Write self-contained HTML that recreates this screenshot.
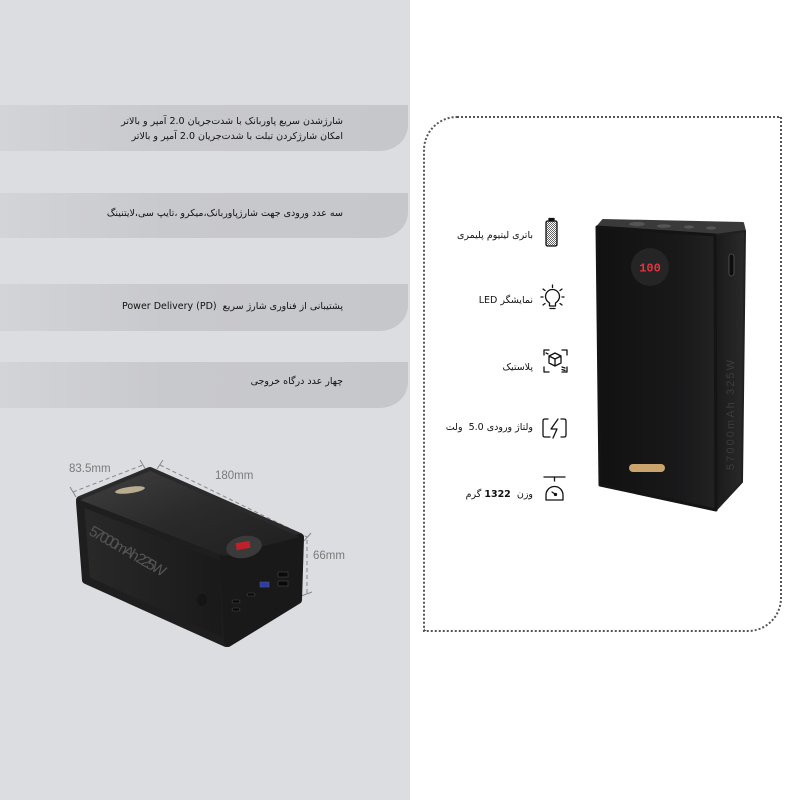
<!DOCTYPE html>
<html><head><meta charset="utf-8">
<style>
html,body{margin:0;padding:0;}
body{width:800px;height:800px;position:relative;background:#fff;overflow:hidden;font-family:"DejaVu Sans","Liberation Sans",sans-serif;}
#left{position:absolute;left:0;top:0;width:410px;height:800px;background:#dcdde1;}
.ban{position:absolute;left:0;width:408px;background:linear-gradient(to right,#d3d4d7 0,#c8c9cd 40%,#c6c7cb 100%);border-radius:0 0 28px 0/0 0 26px 0;}
.t{position:absolute;direction:rtl;text-align:right;color:#111;font-size:9.5px;white-space:nowrap;line-height:14px;}
.dim{position:absolute;font-family:"Liberation Sans",sans-serif;color:#7a7a7a;font-size:11.5px;}
#box{position:absolute;left:423px;top:116px;width:355px;height:512px;border:2px dotted #555;border-radius:34px 0 34px 0;}
</style></head><body>
<div id="left">
  <div class="ban" style="top:105px;height:46px;"></div>
  <div class="ban" style="top:193px;height:45px;"></div>
  <div class="ban" style="top:284px;height:47px;"></div>
  <div class="ban" style="top:362px;height:46px;"></div>
  <div class="t" style="right:67px;top:115px;">شارژشدن سریع پاوربانک با شدت‌جریان 2.0 آمپر و بالاتر</div>
  <div class="t" style="right:67px;top:130px;">امکان شارژکردن تبلت با شدت‌جریان 2.0 آمپر و بالاتر</div>
  <div class="t" style="right:67px;top:207px;">سه عدد ورودی جهت شارژپاوربانک،میکرو ،تایپ سی،لایتنینگ</div>
  <div class="t" style="right:67px;top:300px;">پشتیبانی از فناوری شارژ سریع &nbsp;<bdi dir="ltr">Power Delivery (PD)</bdi></div>
  <div class="t" style="right:67px;top:375px;">چهار عدد درگاه خروجی</div>
  <div class="dim" style="left:69px;top:463px;">83.5mm</div>
  <div class="dim" style="left:215px;top:470px;">180mm</div>
  <div class="dim" style="left:313px;top:550px;">66mm</div>
</div>

<svg width="800" height="800" style="position:absolute;left:0;top:0;">
  <defs>
    <linearGradient id="topL" x1="0" y1="0" x2="1" y2="1">
      <stop offset="0" stop-color="#404041"/><stop offset="0.5" stop-color="#2a2a2b"/><stop offset="1" stop-color="#1f1f20"/>
    </linearGradient>
    <linearGradient id="sideL" x1="0" y1="0" x2="1" y2="0">
      <stop offset="0" stop-color="#29292a"/><stop offset="1" stop-color="#19191a"/>
    </linearGradient>
    <linearGradient id="frontR" x1="0" y1="0" x2="1" y2="0">
      <stop offset="0" stop-color="#111112"/><stop offset="0.7" stop-color="#19191a"/><stop offset="1" stop-color="#222223"/>
    </linearGradient>
    <linearGradient id="sideR" x1="0" y1="0" x2="1" y2="0">
      <stop offset="0" stop-color="#1a1a1b"/><stop offset="1" stop-color="#2a2a2b"/>
    </linearGradient>
    <pattern id="dots" width="2" height="2" patternUnits="userSpaceOnUse">
      <rect width="2" height="2" fill="#fff"/><rect width="1" height="1" fill="#666"/><rect x="1" y="1" width="1" height="1" fill="#666"/>
    </pattern>
  </defs>

  <g stroke="#888" stroke-width="1" fill="none">
    <line x1="73" y1="492" x2="143" y2="465" stroke-dasharray="4,3"/>
    <line x1="70" y1="487" x2="76" y2="497"/>
    <line x1="140" y1="460" x2="146" y2="470"/>
    <line x1="160" y1="465" x2="307" y2="537" stroke-dasharray="4,3"/>
    <line x1="157" y1="469" x2="163" y2="460"/>
    <line x1="304" y1="541" x2="311" y2="533"/>
    <line x1="307" y1="540" x2="307" y2="594" stroke-dasharray="4,3"/>
    <line x1="301" y1="596" x2="312" y2="592"/>
  </g>

  <g stroke-linejoin="round">
    <polygon points="80,500 150,471 300,537 224,556" fill="url(#topL)" stroke="#2a2a2b" stroke-width="8"/>
    <polygon points="80,502 224,558 226,643 86,580" fill="url(#sideL)" stroke="#1e1e1f" stroke-width="8"/>
    <polygon points="224,557 300,538 298,600 228,643" fill="#19191a" stroke="#19191a" stroke-width="8"/>
    <polygon points="80,500 150,471 300,537 224,556" fill="url(#topL)"/>
  </g>
  <ellipse cx="130" cy="490" rx="15" ry="3.2" fill="#b9ad90" transform="rotate(-8 130 490)"/>
  <ellipse cx="244" cy="547" rx="18" ry="11" fill="#3a3a3b" transform="rotate(-10 244 547)"/>
  <rect x="236" y="542" width="14" height="7" fill="#c0202a" transform="rotate(-10 243 545)"/>
  <g fill="#0a0a0a" stroke="#444" stroke-width="0.6">
    <rect x="232" y="600" width="8" height="3" rx="1.5"/>
    <rect x="232" y="608" width="8" height="3" rx="1.5"/>
    <rect x="247" y="593" width="8" height="3" rx="1.5"/>
    <rect x="260" y="582" width="9" height="5" fill="#2a3cb0" stroke="#556"/>
    <rect x="278" y="572" width="10" height="5"/>
    <rect x="278" y="581" width="10" height="5"/>
  </g>
  <ellipse cx="202" cy="600" rx="5" ry="6" fill="#151516"/>
  <text x="0" y="0" font-family="Liberation Sans Narrow,Liberation Sans,sans-serif" font-size="15" fill="#555" transform="translate(88,534) rotate(30)" textLength="86">57000mAh 225W</text>

  <g stroke-linejoin="round">
    <polygon points="597,227 603,220 743,223 745,231 715,235" fill="#3a3a3b" stroke="#3a3a3b" stroke-width="2"/>
    <polygon points="715,235 745,231 742,482 716,510" fill="url(#sideR)" stroke="#202021" stroke-width="2"/>
    <polygon points="597,227 715,235 716,510 600,485" fill="url(#frontR)" stroke="#141415" stroke-width="3"/>
  </g>
  <g fill="#555">
    <ellipse cx="637" cy="224" rx="8" ry="2.2"/>
    <ellipse cx="664" cy="226" rx="7" ry="1.8"/>
    <ellipse cx="689" cy="227" rx="5" ry="1.6"/>
    <ellipse cx="711" cy="228" rx="5" ry="1.6"/>
  </g>
  <rect x="729" y="254" width="5" height="22" rx="2.5" fill="#0d0d0d" stroke="#555" stroke-width="0.8"/>
  <circle cx="650" cy="267" r="19" fill="#252526"/>
  <text x="650" y="271.5" text-anchor="middle" font-family="Liberation Mono,monospace" font-size="12" font-weight="bold" fill="#e8323e">100</text>
  <rect x="629" y="464" width="36" height="8" rx="4" fill="#c9a46c"/>
  <text x="0" y="0" font-family="Liberation Sans,sans-serif" font-size="11" fill="#3c3c3d" transform="translate(734,470) rotate(-90)" textLength="110">57000mAh 325W</text>

  <g fill="none" stroke="#111" stroke-width="1.3" stroke-linecap="round" stroke-linejoin="round">
    <rect x="546" y="221" width="11" height="25" rx="1.5" fill="url(#dots)"/>
    <rect x="549" y="218.5" width="5" height="2.5" fill="#111"/>
    <path d="M549.5 306 v-3 c-3-2-4-4-4-6.5 a7 7 0 0 1 14 0 c0 2.5-1 4.5-4 6.5 v3 z"/>
    <line x1="550" y1="308.5" x2="555" y2="308.5"/>
    <line x1="552.5" y1="285" x2="552.5" y2="287.5"/>
    <line x1="543" y1="289" x2="545" y2="290.5"/>
    <line x1="562" y1="289" x2="560" y2="290.5"/>
    <line x1="541" y1="297" x2="543" y2="297"/>
    <line x1="562" y1="297" x2="564" y2="297"/>
    <line x1="543" y1="305" x2="545" y2="303.5"/>
    <line x1="562" y1="305" x2="560" y2="303.5"/>
    <path d="M544 355 v-5 h5 M562 350 h5 v5 M567 367 v5 h-5 M549 372 h-5 v-5"/>
    <path d="M549 356 l6-3 6 3 v7 l-6 3 -6-3 z M549 356 l6 3 6-3 M555 359 v7"/>
    <line x1="546" y1="353" x2="548" y2="354"/>
    <line x1="562" y1="367" x2="565" y2="368"/>
    <line x1="562" y1="369.5" x2="565" y2="370.5"/>
    <path d="M548 419 h-3 q-2 0 -2 2 v14 q0 2 2 2 h5"/>
    <path d="M561 419 h3 q2 0 2 2 v14 q0 2 -2 2 h-3"/>
    <path d="M558 419 l-7 10 h6 l-4 9"/>
    <line x1="544" y1="477" x2="565" y2="477"/>
    <line x1="554.5" y1="477" x2="554.5" y2="481"/>
    <path d="M546 500 v-5 a8.5 8.5 0 0 1 17 0 v5 z"/>
    <line x1="552" y1="492" x2="555" y2="494"/>
    <circle cx="555.5" cy="494.5" r="1" fill="#111"/>
  </g>
</svg>

<div id="box"></div>

<div class="t" style="right:267px;top:229px;">باتری لیتیوم پلیمری</div>
<div class="t" style="right:267px;top:294px;">نمایشگر <bdi dir="ltr">LED</bdi></div>
<div class="t" style="right:267px;top:361px;">پلاستیک</div>
<div class="t" style="right:267px;top:421px;">ولتاژ ورودی 5.0 &nbsp;ولت</div>
<div class="t" style="right:267px;top:488px;">وزن &nbsp;<b>1322</b> گرم</div>
</body></html>
